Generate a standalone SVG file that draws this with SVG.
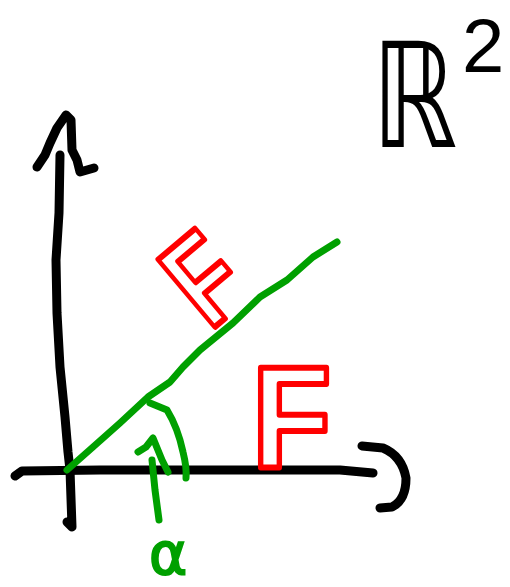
<svg xmlns="http://www.w3.org/2000/svg" width="510" height="587" viewBox="0 0 510 587">
<style>
.ink{fill:none;stroke-linecap:round;stroke-linejoin:round}
.k{stroke:#000;stroke-width:9}
.g{stroke:#00a000;stroke-width:7}
.rd{font-family:"Liberation Sans",Arial,sans-serif;font-weight:bold;fill:none;stroke:#ff0000;stroke-width:6;stroke-linejoin:round}
</style>
<rect width="510" height="587" fill="#fff"/>
<g id="axes">
<path class="ink k" d="M60,155 L59,213 L56,260 L57,313 L60,367 L65,417 L68,452 L70,470 L72,527 L67,522"/>
<path class="ink k" d="M37,167 L45,155 L50,143 L57,128 L66,115 L71,120 L72,150 L77,160 L80,172 L94,168"/>
<path class="ink k" d="M15,476 L22,471 L100,470 L250,470 L340,470 L373,473"/>
<path class="ink k" d="M362,446 L383,448 Q402,456 406,478 Q406,500 392,507 L380,508"/>
</g>
<g id="incline">
<path class="ink g" d="M67,470 L93,447 L120,423 L148,397 L170,382 L183,367 L200,350 L233,323 L260,297 L287,280 L313,257 L337,242"/>
</g>
<g id="angle">
<path class="ink g" d="M150,403 L167,410 Q178,428 183,452 Q187,468 186,478"/>
<path class="ink g" d="M138,452 L146,447 L153,438 L162,460 L168,472"/>
<path class="ink g" d="M152,460 L155,490 L159,520"/>
<text x="168" y="574" text-anchor="middle" font-family="DejaVu Sans,sans-serif" font-size="58" fill="#00a000" stroke="#00a000" stroke-width="2">α</text>
</g>
<g id="force-incline">
<text class="rd" transform="translate(216,326) rotate(-40) scale(0.75,1)" x="-11" y="0" font-size="128">F</text>
</g>
<g id="force">
<text class="rd" transform="translate(261,468) scale(0.9,1)" x="-10" y="0" font-size="144">F</text>
</g>
<g id="space">
<text transform="translate(372,147) scale(0.74,1)" x="0" y="0" font-family="DejaVu Sans,sans-serif" font-size="146" fill="#000">ℝ</text>
<text x="462" y="72" font-family="Liberation Sans,Arial,sans-serif" font-size="76" fill="#000">2</text>
</g>
</svg>
